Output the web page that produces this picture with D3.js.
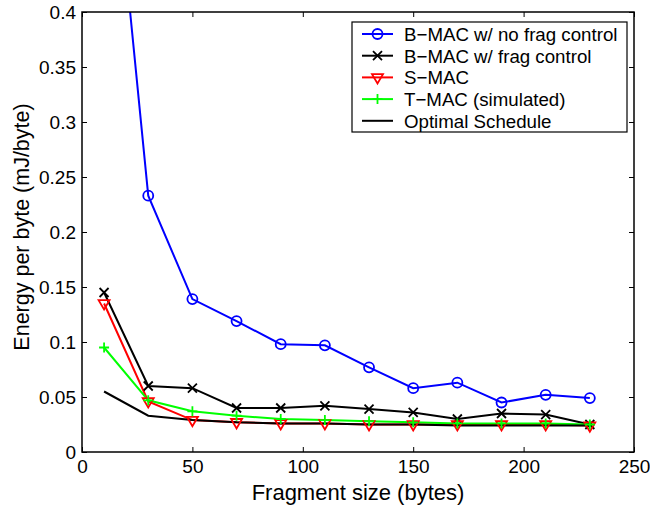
<!DOCTYPE html>
<html>
<head>
<meta charset="utf-8">
<script src="https://cdn.jsdelivr.net/npm/d3@7"></script>
<style>
  body { margin: 0; background: #fff; }
  svg { display: block; font-family: "Liberation Sans", Arial, sans-serif; }
</style>
</head>
<body>
<svg id="chart" width="650" height="506"></svg>
<script>
/* fragment sizes (bytes) */
var fragSizes = [10, 30, 50, 70, 90, 110, 130, 150, 170, 190, 210, 230];

/* energy per byte (mJ/byte) */
var bmacNoFrag = [0.64, 0.233, 0.139, 0.119, 0.098, 0.097, 0.077, 0.058, 0.063, 0.045, 0.052, 0.049];
var bmacFrag   = [0.145, 0.060, 0.058, 0.040, 0.040, 0.042, 0.039, 0.036, 0.030, 0.035, 0.034, 0.025];
var smac       = [0.135, 0.046, 0.029, 0.027, 0.026, 0.026, 0.025, 0.025, 0.025, 0.025, 0.025, 0.024];
var tmac       = [0.095, 0.047, 0.037, 0.033, 0.030, 0.029, 0.028, 0.027, 0.026, 0.026, 0.026, 0.025];
var optimal    = [0.055, 0.033, 0.029, 0.027, 0.026, 0.026, 0.025, 0.025, 0.024, 0.024, 0.024, 0.024];

var xTicks = [0, 50, 100, 150, 200, 250];
var yTicks = [0, 0.05, 0.1, 0.15, 0.2, 0.25, 0.3, 0.35, 0.4];

var seriesList = [
  { name: "B\u2212MAC w/ no frag control", values: bmacNoFrag, color: "#0000ff", marker: "circle" },
  { name: "B\u2212MAC w/ frag control", values: bmacFrag, color: "#000000", marker: "x" },
  { name: "S\u2212MAC", values: smac, color: "#ff0000", marker: "tri" },
  { name: "T\u2212MAC (simulated)", values: tmac, color: "#00ff00", marker: "plus" },
  { name: "Optimal Schedule", values: optimal, color: "#000000", marker: "none" }
];

var margin = { left: 82, top: 12, right: 634, bottom: 452 };

var svg = d3.select("#chart");

var x = d3.scaleLinear().domain([0, 250]).range([margin.left, margin.right]);
var y = d3.scaleLinear().domain([0, 0.4]).range([margin.bottom, margin.top]);

svg.append("defs").append("clipPath").attr("id", "plotClip")
  .append("rect")
  .attr("x", margin.left).attr("y", margin.top)
  .attr("width", margin.right - margin.left)
  .attr("height", margin.bottom - margin.top);

// axes (box style, ticks inward)
function drawAxes() {
  var tickLen = 5;
  var bottom = d3.axisBottom(x).tickValues(xTicks).tickSizeInner(-tickLen).tickSizeOuter(0).tickPadding(8);
  var top = d3.axisTop(x).tickValues(xTicks).tickSizeInner(-tickLen).tickSizeOuter(0).tickFormat("");
  var left = d3.axisLeft(y).tickValues(yTicks).tickSizeInner(-tickLen).tickSizeOuter(0).tickPadding(6)
    .tickFormat(function (d) { return d3.format("")(+d.toFixed(2)); });
  var right = d3.axisRight(y).tickValues(yTicks).tickSizeInner(-tickLen).tickSizeOuter(0).tickFormat("");

  var gb = svg.append("g").attr("transform", "translate(0," + margin.bottom + ")").call(bottom);
  var gt = svg.append("g").attr("transform", "translate(0," + margin.top + ")").call(top);
  var gl = svg.append("g").attr("transform", "translate(" + margin.left + ",0)").call(left);
  var gr = svg.append("g").attr("transform", "translate(" + margin.right + ",0)").call(right);

  [gb, gt, gl, gr].forEach(function (g) {
    g.select(".domain").remove();
    g.selectAll(".tick line").attr("stroke", "#000").attr("stroke-width", 1);
    g.selectAll(".tick text").attr("fill", "#000").style("font-size", "19px")
      .style("font-family", "'Liberation Sans', Arial, sans-serif");
  });

  svg.append("rect")
    .attr("x", margin.left).attr("y", margin.top)
    .attr("width", margin.right - margin.left)
    .attr("height", margin.bottom - margin.top)
    .attr("fill", "none").attr("stroke", "#000").attr("stroke-width", 1.5);
}

function drawMarker(g, type, cx, cy, color) {
  if (type === "circle") {
    g.append("circle").attr("cx", cx).attr("cy", cy).attr("r", 5)
      .attr("fill", "none").attr("stroke", color).attr("stroke-width", 1.8);
  } else if (type === "x") {
    var s = 4.5;
    g.append("path")
      .attr("d", "M" + (cx - s) + "," + (cy - s) + "L" + (cx + s) + "," + (cy + s) +
                 "M" + (cx - s) + "," + (cy + s) + "L" + (cx + s) + "," + (cy - s))
      .attr("stroke", color).attr("stroke-width", 1.8);
  } else if (type === "plus") {
    var p = 5;
    g.append("path")
      .attr("d", "M" + (cx - p) + "," + cy + "L" + (cx + p) + "," + cy +
                 "M" + cx + "," + (cy - p) + "L" + cx + "," + (cy + p))
      .attr("stroke", color).attr("stroke-width", 1.8);
  } else if (type === "tri") {
    var t = 5.5;
    g.append("path")
      .attr("d", "M" + (cx - t) + "," + (cy - t * 0.6) + "L" + (cx + t) + "," + (cy - t * 0.6) +
                 "L" + cx + "," + (cy + t * 1.1) + "Z")
      .attr("fill", "none").attr("stroke", color).attr("stroke-width", 1.8);
  }
}

function drawSeries() {
  var line = d3.line()
    .x(function (d) { return x(d[0]); })
    .y(function (d) { return y(d[1]); });

  var plot = svg.append("g").attr("clip-path", "url(#plotClip)");

  seriesList.forEach(function (s) {
    var pts = fragSizes.map(function (f, i) { return [f, s.values[i]]; });
    plot.append("path").datum(pts)
      .attr("d", line)
      .attr("fill", "none")
      .attr("stroke", s.color)
      .attr("stroke-width", 2);
  });

  seriesList.forEach(function (s) {
    if (s.marker === "none") return;
    var mg = plot.append("g");
    fragSizes.forEach(function (f, i) {
      drawMarker(mg, s.marker, x(f), y(s.values[i]), s.color);
    });
  });
}

function drawLabels() {
  svg.append("text")
    .attr("x", (margin.left + margin.right) / 2)
    .attr("y", 500)
    .attr("text-anchor", "middle")
    .style("font-size", "22px")
    .text("Fragment size (bytes)");

  svg.append("text")
    .attr("transform", "translate(29," + ((margin.top + margin.bottom) / 2 - 5) + ") rotate(-90)")
    .attr("text-anchor", "middle")
    .style("font-size", "21.5px")
    .text("Energy per byte (mJ/byte)");
}

function drawLegend() {
  var lx = 352, ly = 22, lw = 275, lh = 110;
  var g = svg.append("g");
  g.append("rect").attr("x", lx).attr("y", ly).attr("width", lw).attr("height", lh)
    .attr("fill", "#fff").attr("stroke", "#000").attr("stroke-width", 1.2);

  seriesList.forEach(function (s, i) {
    var cy = 34 + i * 21.7;
    g.append("line").attr("x1", 362).attr("x2", 393).attr("y1", cy).attr("y2", cy)
      .attr("stroke", s.color).attr("stroke-width", 2);
    if (s.marker !== "none") drawMarker(g, s.marker, 377.5, cy, s.color);
    g.append("text").attr("x", 404).attr("y", cy + 6.8)
      .style("font-size", "18.7px")
      .text(s.name);
  });
}

drawSeries();
drawAxes();
drawLabels();
drawLegend();
</script>
</body>
</html>
